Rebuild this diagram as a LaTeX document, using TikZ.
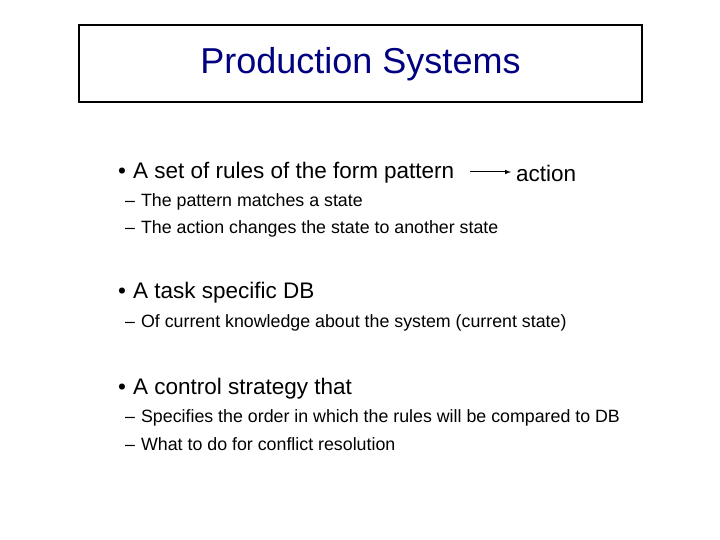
\documentclass[tikz,border=0pt]{standalone}
\usepackage{fontspec}
\setmainfont{Liberation Sans}
\definecolor{titleblue}{RGB}{0,0,128}
\tikzset{
  bul/.style={anchor=west, inner sep=0pt, font=\fontsize{22.5}{27}\selectfont},
  sub/.style={anchor=west, inner sep=0pt, font=\fontsize{17.8}{21}\selectfont},
}
\begin{document}
\begin{tikzpicture}[x=1pt,y=-1pt]
\useasboundingbox [fill=white] (0,0) rectangle (720,540);

% title
\draw [line width=1.2pt] (79,25) rectangle (642,102);
\node [text=titleblue, font=\fontsize{36}{42}\selectfont] (title) at (360.5,64) {Production Systems};

% bullets
\node [bul] (b1) at (118,173) {\textbullet\hspace{7pt}A set of rules of the form\hspace{6pt}pattern};
\node [bul] (act) at (516,173) {action};
\coordinate (arrS) at (470,172);
\coordinate (arrE) at (511,172);
\draw [-latex, line width=1pt] (arrS) -- (arrE);
\node [sub] (s1) at (125,202) {--\hspace{6pt}The pattern matches a state};
\node [sub] (s2) at (125,229) {--\hspace{6pt}The action changes the state to another state};

\node [bul] (b2) at (118,293) {\textbullet\hspace{7pt}A task specific DB};
\node [sub] (s3) at (125,323) {--\hspace{6pt}Of current knowledge about the system (current state)};

\node [bul] (b3) at (118,389) {\textbullet\hspace{7pt}A control strategy that};
\node [sub] (s4) at (125,418) {--\hspace{6pt}Specifies the order in which the rules will be compared to DB};
\node [sub] (s5) at (125,444) {--\hspace{6pt}What to do for conflict resolution};

\end{tikzpicture}
\end{document}
